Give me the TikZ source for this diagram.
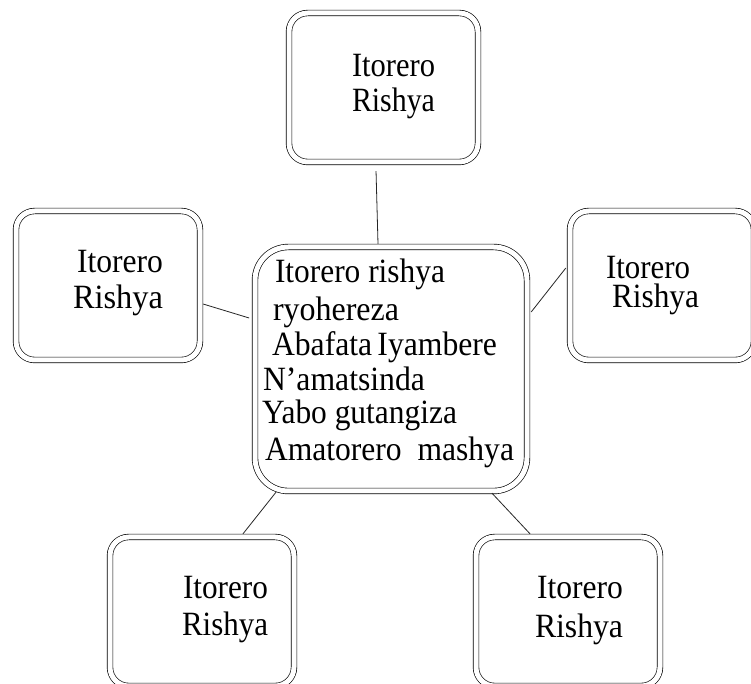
\documentclass[tikz,border=0pt]{standalone}
\usepackage{fontspec}
\usepackage{graphicx}
\setmainfont{Liberation Serif}
\newlength\pxu
\setlength\pxu{0.75pt}
% set a word or line to a given width (in px units), keeping its height
\newcommand\fitw[2]{\resizebox{#1\pxu}{\height}{#2}}
\tikzset{
  roundbox/.style={draw=black, line width=0.5pt, double=white, double distance=3.75pt,
    rectangle, rounded corners=14pt, inner sep=0pt, outer sep=2.4pt},
  smallbox/.style={roundbox, minimum width=138pt, minimum height=111.75pt},
  hubbox/.style={roundbox, rounded corners=25pt, minimum width=204pt, minimum height=183pt},
  txt/.style={inner sep=0pt, outer sep=0pt, anchor=base west, font=\fontsize{25.5}{30}\selectfont},
  link/.style={draw=black!85, line width=0.6pt}
}
\begin{document}
\begin{tikzpicture}[x=0.75pt, y=-0.75pt]
\useasboundingbox (0,0) rectangle (751,684);
\clip (0,0) rectangle (751,684);
\fill[white] (0,0) rectangle (751,684);

% boxes
\node[smallbox, minimum width=141.75pt] (nTop) at (383.5,87.5) {};
\node[smallbox] (nLeft) at (108,285.5) {};
\node[smallbox] (nRight) at (662,285.5) {};
\node[smallbox] (nBL) at (202,611.5) {};
\node[smallbox] (nBR) at (568,611.5) {};
\node[hubbox] (hub) at (391,369) {};

% connectors
\draw[link] ([xshift=-5.6pt, yshift=-4.5pt]nTop.south) -- ([xshift=-9.75pt]hub.north);
\draw[link] ([yshift=-13.9pt]nLeft.east) -- ([xshift=-2pt, yshift=38.25pt]hub.west);
\draw[link] ([xshift=0.75pt, yshift=42.75pt]hub.east) -- ([xshift=-0.75pt, yshift=13.1pt]nRight.west);
\draw[link] ([xshift=-86.25pt, yshift=1.5pt]hub.south) -- ([xshift=30.75pt]nBL.north);
\draw[link] ([xshift=75.75pt, yshift=0.75pt]hub.south) -- ([xshift=-28.5pt]nBR.north);

% labels of the outer boxes
\node[txt] (tTopA) at (352,77) {\fitw{83}{Itorero}};
\node[txt] (tTopB) at (352,112) {\fitw{83}{Rishya}};
\node[txt] (tLeftA) at (77,273) {\fitw{86}{Itorero}};
\node[txt] (tLeftB) at (73,309) {\fitw{90}{Rishya}};
\node[txt] (tRightA) at (606,279) {\fitw{84}{Itorero}};
\node[txt] (tRightB) at (612,308) {\fitw{87}{Rishya}};
\node[txt] (tBLA) at (183,599) {\fitw{85}{Itorero}};
\node[txt] (tBLB) at (182,636) {\fitw{86}{Rishya}};
\node[txt] (tBRA) at (537,599) {\fitw{86}{Itorero}};
\node[txt] (tBRB) at (535,638) {\fitw{88}{Rishya}};

% text of the central box
\node[txt] (h1) at (275,283) {\fitw{170}{Itorero rishya}};
\node[txt] (h2) at (273,321) {\fitw{126}{ryohereza}};
\node[txt] (h3) at (272,356) {\fitw{225}{Abafata\,Iyambere}};
\node[txt] (h4) at (263,391) {\fitw{162}{N’amatsinda}};
\node[txt] (h5) at (262,424) {\fitw{195}{Yabo gutangiza}};
\node[txt] (h6) at (265,461) {\fitw{249}{Amatorero\ \ mashya}};
\end{tikzpicture}
\end{document}
